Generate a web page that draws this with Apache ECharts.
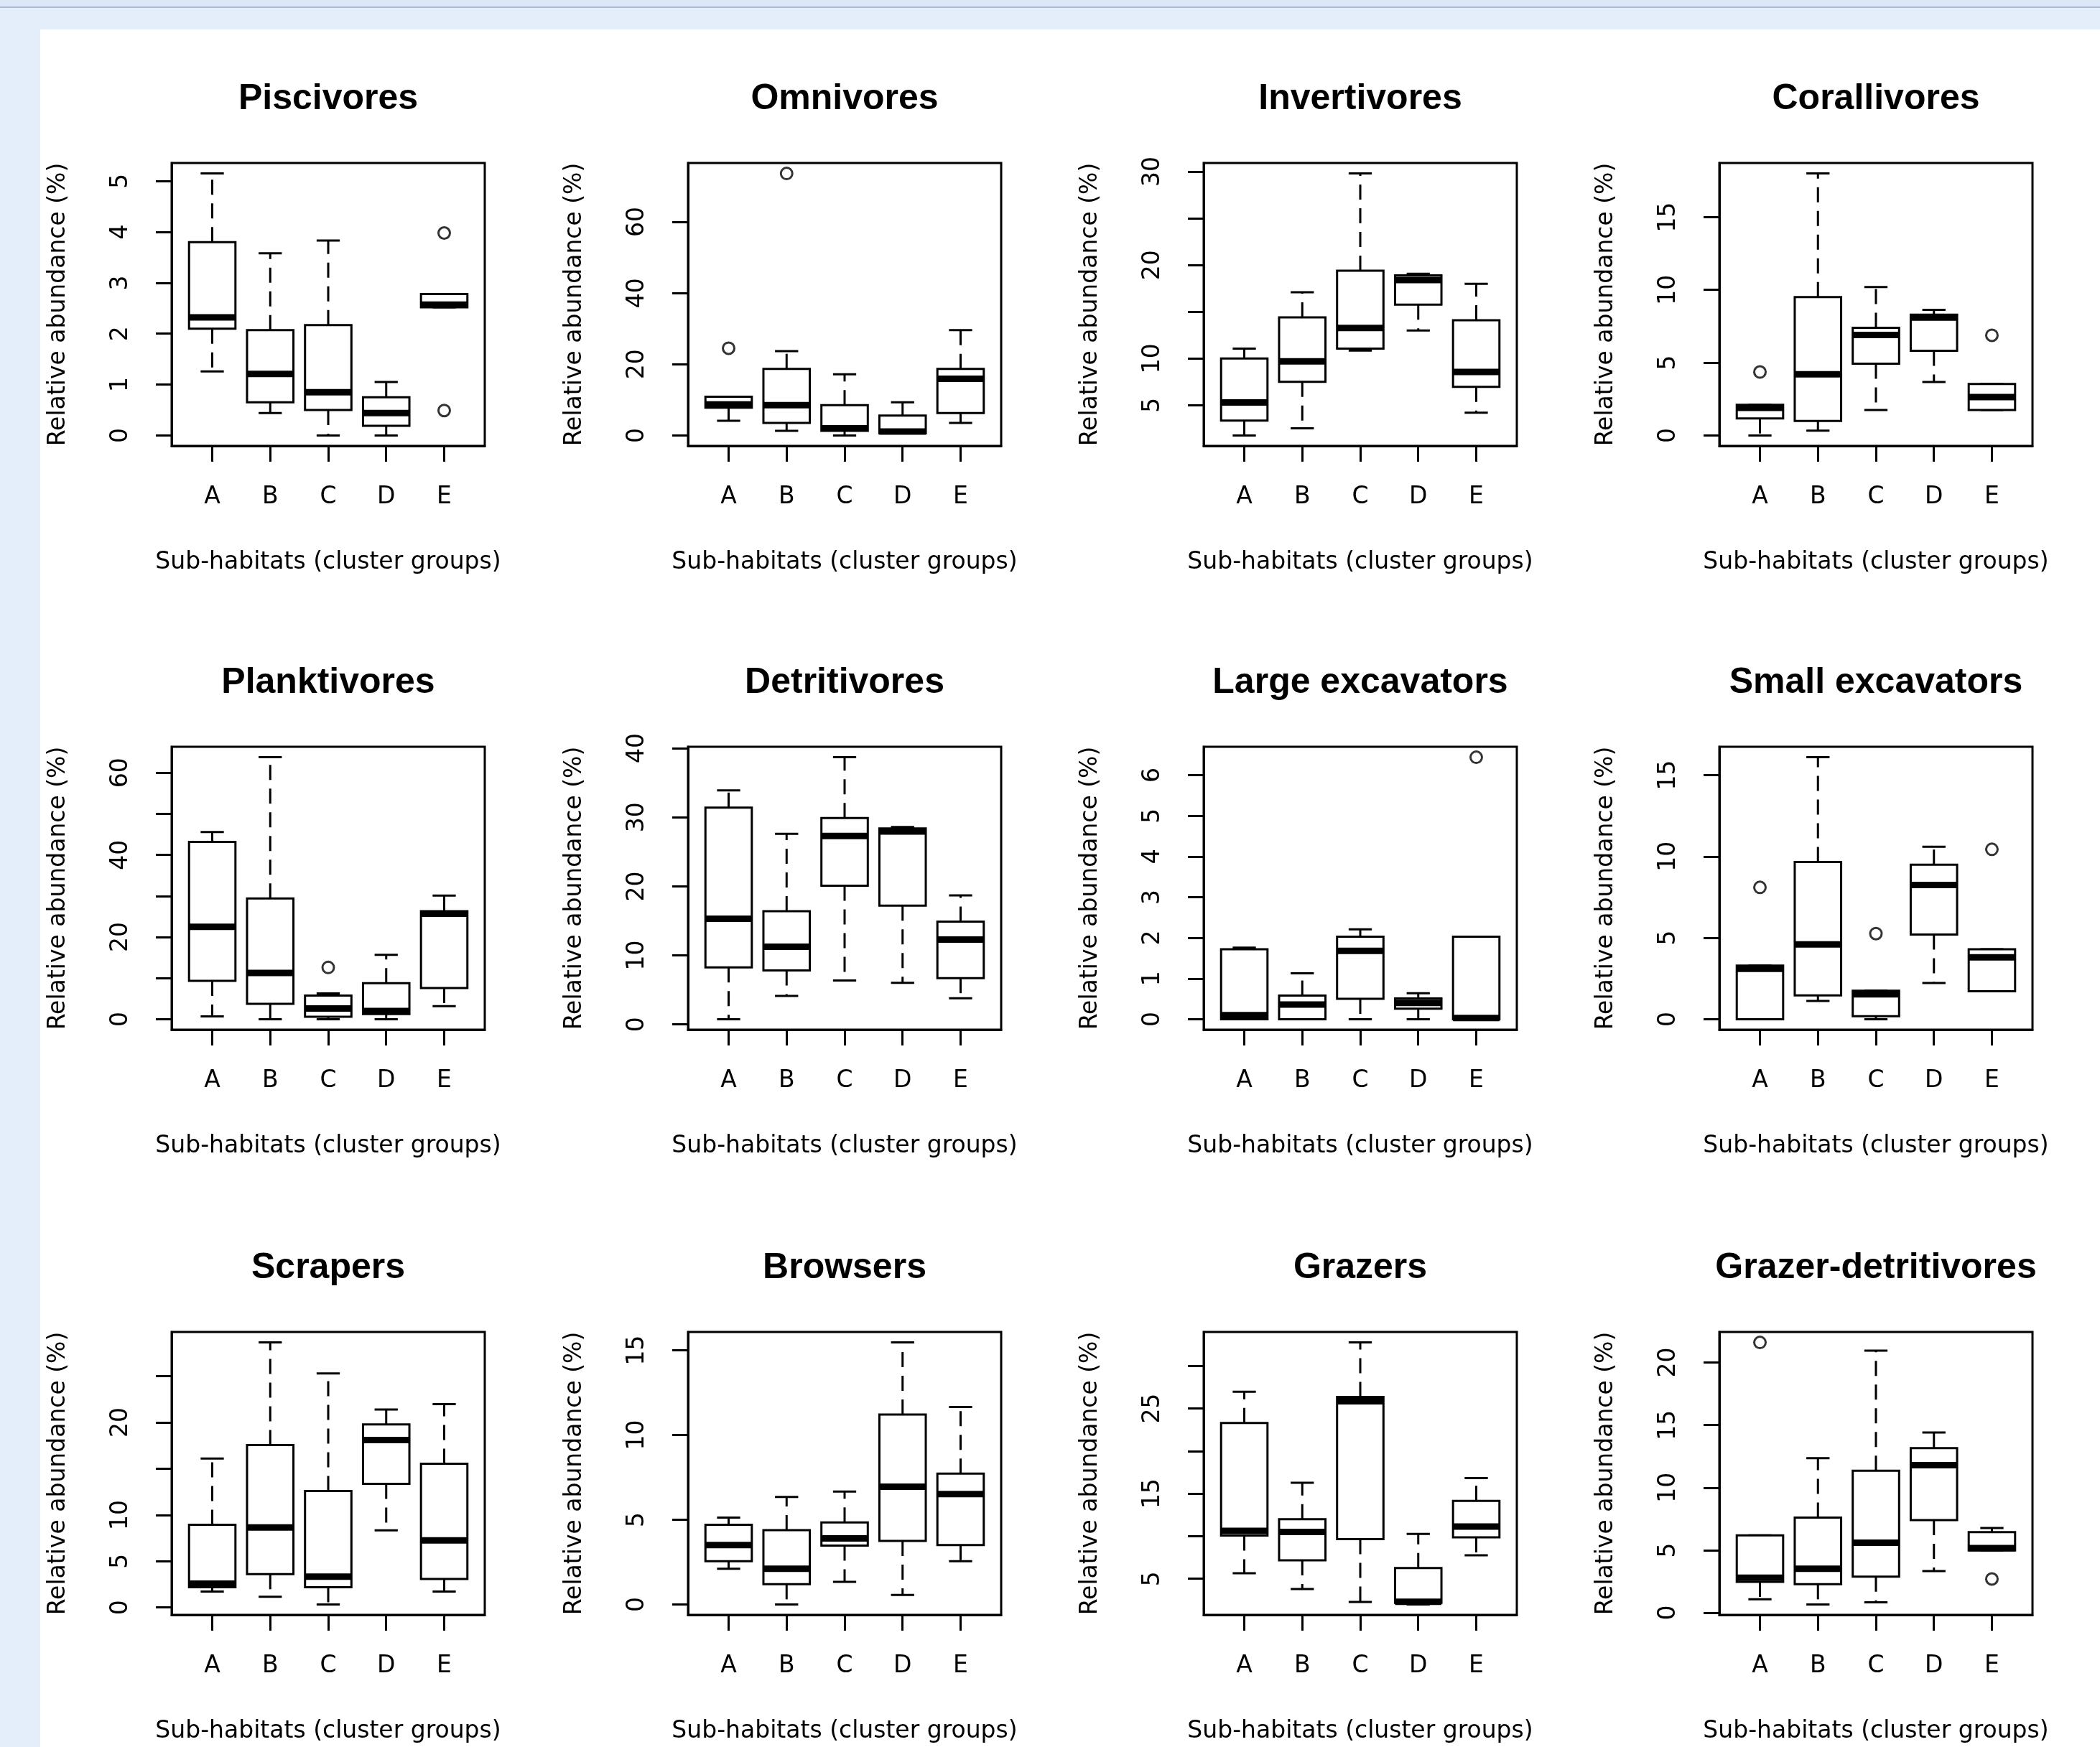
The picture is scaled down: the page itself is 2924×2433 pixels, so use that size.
<!DOCTYPE html>
<html>
<head>
<meta charset="utf-8">
<title>Trophic groups by sub-habitat</title>
<script src="https://cdn.jsdelivr.net/npm/echarts@6/dist/echarts.min.js"></script>
<style>
  html, body { margin: 0; padding: 0; }
  body { width: 2924px; height: 2433px; background: #e4eefa; position: relative; overflow: hidden; }
  #topbar { position: absolute; left: 0; top: 0; width: 2924px; height: 9px; background: #dce8f7; border-bottom: 2px solid #a9bcd6; }
  #sheet { position: absolute; left: 56px; top: 41px; right: 0; bottom: 0; background: #fff; }
  #main { position: absolute; left: 0; top: 0; width: 2924px; height: 2433px; }
</style>
</head>
<body>
<div id="topbar"></div>
<div id="sheet"></div>
<div id="main"></div>
<script>
// sub-habitat cluster groups
const groups = ['A', 'B', 'C', 'D', 'E']

// each box: [lower whisker, Q1, median, Q3, upper whisker]; outliers: [group no, value]
const piscivoresBox = [[1.26, 2.10, 2.32, 3.80, 5.15], [0.44, 0.65, 1.21, 2.07, 3.58], [0, 0.50, 0.85, 2.17, 3.83], [0, 0.19, 0.44, 0.75, 1.05], [2.52, 2.52, 2.57, 2.78, 2.78]]
const piscivoresOut = [[5, 3.98], [5, 0.49]]

const omnivoresBox = [[4.1, 7.8, 8.7, 10.9, 10.9], [1.3, 3.5, 8.5, 18.7, 23.7], [0, 1.3, 2.0, 8.5, 17.2], [0.6, 0.6, 1.1, 5.6, 9.3], [3.5, 6.3, 15.9, 18.7, 29.6]]
const omnivoresOut = [[1, 24.5], [2, 73.6]]

const invertivoresBox = [[1.77, 3.35, 5.3, 10.0, 11.06], [2.53, 7.5, 9.7, 14.4, 17.1], [10.85, 11.06, 13.27, 19.4, 29.8], [13.0, 15.76, 18.4, 18.9, 19.07], [4.2, 6.96, 8.56, 14.1, 18.0]]
const invertivoresOut = []

const corallivoresBox = [[0, 1.17, 1.9, 2.1, 2.1], [0.33, 1.0, 4.2, 9.5, 18.0], [1.75, 4.93, 6.9, 7.4, 10.2], [3.67, 5.82, 8.1, 8.3, 8.63], [1.75, 1.75, 2.64, 3.54, 3.54]]
const corallivoresOut = [[1, 4.36], [5, 6.88]]

const planktivoresBox = [[0.7, 9.35, 22.5, 43.2, 45.6], [0, 3.75, 11.25, 29.4, 63.8], [0, 0.58, 2.6, 5.77, 6.3], [0, 1.27, 2.0, 8.77, 15.7], [3.17, 7.6, 25.7, 26.3, 30.1]]
const planktivoresOut = [[3, 12.6]]

const detritivoresBox = [[0.76, 8.26, 15.3, 31.4, 33.9], [4.13, 7.81, 11.26, 16.4, 27.6], [6.37, 20.1, 27.3, 29.9, 38.7], [6.02, 17.2, 27.95, 28.4, 28.6], [3.79, 6.71, 12.3, 14.9, 18.7]]
const detritivoresOut = []

const largeExcBox = [[0, 0, 0.1, 1.72, 1.76], [0, 0, 0.36, 0.58, 1.13], [0, 0.5, 1.68, 2.03, 2.21], [0, 0.26, 0.4, 0.51, 0.64], [0, 0, 0.03, 2.03, 2.03]]
const largeExcOut = [[5, 6.44]]

const smallExcBox = [[0, 0, 3.1, 3.3, 3.3], [1.12, 1.46, 4.6, 9.66, 16.1], [0, 0.18, 1.53, 1.75, 1.75], [2.23, 5.2, 8.25, 9.5, 10.6], [1.72, 1.72, 3.8, 4.3, 4.3]]
const smallExcOut = [[1, 8.1], [3, 5.26], [5, 10.44]]

const scrapersBox = [[1.72, 2.19, 2.57, 8.95, 16.1], [1.16, 3.6, 8.66, 17.56, 28.66], [0.33, 2.19, 3.34, 12.6, 25.3], [8.35, 13.37, 18.1, 19.8, 21.4], [1.72, 3.08, 7.25, 15.55, 21.98]]
const scrapersOut = []

const browsersBox = [[2.1, 2.55, 3.5, 4.7, 5.12], [0, 1.19, 2.1, 4.38, 6.34], [1.33, 3.47, 3.9, 4.84, 6.66], [0.56, 3.75, 6.95, 11.2, 15.46], [2.55, 3.5, 6.51, 7.72, 11.65]]
const browsersOut = []

const grazersBox = [[5.65, 10.07, 10.63, 23.3, 26.97], [3.79, 7.17, 10.5, 11.99, 16.27], [2.27, 9.65, 25.85, 26.35, 32.75], [1.99, 2.18, 2.3, 6.27, 10.27], [7.76, 9.87, 11.14, 14.15, 16.83]]
const grazersOut = []

const grazerDetBox = [[1.08, 2.47, 2.8, 6.18, 6.18], [0.67, 2.28, 3.52, 7.6, 12.36], [0.84, 2.89, 5.6, 11.35, 20.95], [3.33, 7.4, 11.8, 13.16, 14.4], [4.98, 4.98, 5.17, 6.45, 6.78]]
const grazerDetOut = [[1, 21.6], [5, 2.7]]

// y tick positions and the ones R kept a label for
const ticksBy5to30 = [5, 10, 15, 20, 25, 30]
const panels = [
  { title: 'Piscivores', box: piscivoresBox, out: piscivoresOut, ticks: [0, 1, 2, 3, 4, 5], labels: [0, 1, 2, 3, 4, 5] },
  { title: 'Omnivores', box: omnivoresBox, out: omnivoresOut, ticks: [0, 20, 40, 60], labels: [0, 20, 40, 60] },
  { title: 'Invertivores', box: invertivoresBox, out: invertivoresOut, ticks: ticksBy5to30, labels: [5, 10, 20, 30] },
  { title: 'Corallivores', box: corallivoresBox, out: corallivoresOut, ticks: [0, 5, 10, 15], labels: [0, 5, 10, 15] },
  { title: 'Planktivores', box: planktivoresBox, out: planktivoresOut, ticks: [0, 10, 20, 30, 40, 50, 60], labels: [0, 20, 40, 60] },
  { title: 'Detritivores', box: detritivoresBox, out: detritivoresOut, ticks: [0, 10, 20, 30, 40], labels: [0, 10, 20, 30, 40] },
  { title: 'Large excavators', box: largeExcBox, out: largeExcOut, ticks: [0, 1, 2, 3, 4, 5, 6], labels: [0, 1, 2, 3, 4, 5, 6] },
  { title: 'Small excavators', box: smallExcBox, out: smallExcOut, ticks: [0, 5, 10, 15], labels: [0, 5, 10, 15] },
  { title: 'Scrapers', box: scrapersBox, out: scrapersOut, ticks: [0, 5, 10, 15, 20, 25], labels: [0, 5, 10, 20] },
  { title: 'Browsers', box: browsersBox, out: browsersOut, ticks: [0, 5, 10, 15], labels: [0, 5, 10, 15] },
  { title: 'Grazers', box: grazersBox, out: grazersOut, ticks: ticksBy5to30, labels: [5, 15, 25] },
  { title: 'Grazer-detritivores', box: grazerDetBox, out: grazerDetOut, ticks: [0, 5, 10, 15, 20], labels: [0, 5, 10, 15, 20] },
]

const xLabel = 'Sub-habitats (cluster groups)'
const yLabel = 'Relative abundance (%)'

// layout (px)
const colLeft = [239, 958, 1676, 2394]
const rowTop = [227, 1040, 1855]
const plotW = 436
const plotH = 394
const axisFont = 'DejaVu Sans'
const LW = 3

function renderBox(params, api) {
  const x = api.value(0)
  const lo = api.value(1), q1 = api.value(2), med = api.value(3), q3 = api.value(4), hi = api.value(5)
  const hw = 0.4, cw = 0.2
  const tl = api.coord([x - hw, q3])
  const br = api.coord([x + hw, q1])
  const line = (a, b, extra) => ({
    type: 'line',
    shape: { x1: a[0], y1: a[1], x2: b[0], y2: b[1] },
    style: Object.assign({ stroke: '#000', lineWidth: LW, lineCap: 'butt' }, extra || {}),
  })
  const dash = { lineDash: [21, 12] }
  return {
    type: 'group',
    children: [
      line(api.coord([x, q3]), api.coord([x, hi]), dash),
      line(api.coord([x, q1]), api.coord([x, lo]), dash),
      line(api.coord([x - cw, hi]), api.coord([x + cw, hi])),
      line(api.coord([x - cw, lo]), api.coord([x + cw, lo])),
      {
        type: 'rect',
        shape: { x: tl[0], y: tl[1], width: br[0] - tl[0], height: br[1] - tl[1] },
        style: { fill: '#fff', stroke: '#000', lineWidth: LW },
      },
      line(api.coord([x - hw, med]), api.coord([x + hw, med]), { lineWidth: 9 }),
    ],
  }
}

const grid = [], xAxis = [], yAxis = [], series = [], graphic = []

panels.forEach((p, i) => {
  const r = Math.floor(i / 4), c = i % 4
  const left = colLeft[c], top = rowTop[r]
  grid.push({ left: left, top: top, width: plotW, height: plotH, show: true, borderColor: '#000', borderWidth: LW, backgroundColor: 'transparent' })

  // R style limits: data range padded by 4 %
  const all = p.box.flat().concat(p.out.map((o) => o[1]))
  const lo = Math.min(...all), hi = Math.max(...all)
  const pad = (hi - lo) * 0.04

  xAxis.push({
    gridIndex: i,
    type: 'value',
    min: 0.3,
    max: 5.7,
    name: xLabel,
    nameLocation: 'middle',
    nameGap: 146,
    nameTextStyle: { fontFamily: axisFont, fontSize: 33, color: '#000' },
    axisLine: { show: true, onZero: false, lineStyle: { color: '#000', width: LW } },
    axisTick: { show: true, length: 22, customValues: [1, 2, 3, 4, 5], lineStyle: { color: '#000', width: LW } },
    axisLabel: {
      customValues: [1, 2, 3, 4, 5],
      margin: 55,
      fontFamily: axisFont,
      fontSize: 33,
      color: '#000',
      formatter: (v) => groups[Math.round(v) - 1] || '',
    },
    splitLine: { show: false },
  })

  yAxis.push({
    gridIndex: i,
    type: 'value',
    min: lo - pad,
    max: hi + pad,
    name: yLabel,
    nameLocation: 'middle',
    nameGap: 141,
    nameRotate: 90,
    nameTextStyle: { fontFamily: axisFont, fontSize: 33, color: '#000' },
    axisLine: { show: true, onZero: false, lineStyle: { color: '#000', width: LW } },
    axisTick: { show: true, length: 22, customValues: p.ticks, lineStyle: { color: '#000', width: LW } },
    axisLabel: {
      customValues: p.ticks,
      rotate: 90,
      margin: 54,
      fontFamily: axisFont,
      fontSize: 33,
      color: '#000',
      formatter: (v) => (p.labels.indexOf(v) >= 0 ? String(v) : ''),
    },
    splitLine: { show: false },
  })

  series.push({
    type: 'custom',
    xAxisIndex: i,
    yAxisIndex: i,
    renderItem: renderBox,
    data: p.box.map((b, k) => [k + 1].concat(b)),
    silent: true,
  })
  series.push({
    type: 'scatter',
    xAxisIndex: i,
    yAxisIndex: i,
    symbol: 'circle',
    symbolSize: 16,
    itemStyle: { color: 'transparent', borderColor: '#000', borderWidth: LW },
    data: p.out,
    silent: true,
  })

  graphic.push({
    type: 'text',
    x: left + plotW / 2,
    y: top - 89,
    style: {
      text: p.title,
      font: 'bold 50px "Liberation Sans"',
      fill: '#000',
      align: 'center',
      verticalAlign: 'middle',
    },
  })
})

const myChart = echarts.init(document.getElementById('main'), null, { renderer: 'canvas' })
myChart.setOption({
  animation: false,
  backgroundColor: 'transparent',
  grid: grid,
  xAxis: xAxis,
  yAxis: yAxis,
  series: series,
  graphic: graphic,
})
</script>
</body>
</html>
